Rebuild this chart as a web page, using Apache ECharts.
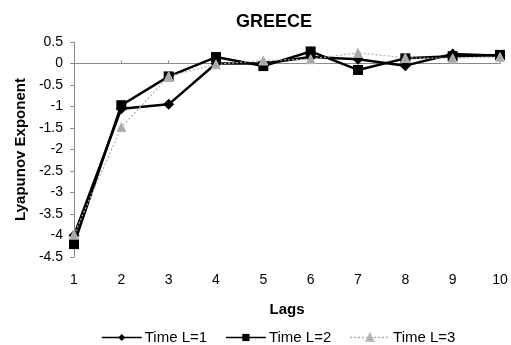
<!DOCTYPE html>
<html>
<head>
<meta charset="utf-8">
<script src="https://cdn.jsdelivr.net/npm/echarts@6/dist/echarts.min.js"></script>
<style>
  html, body { margin: 0; padding: 0; background: #fff; }
  #chart { width: 511px; height: 345px; }
</style>
</head>
<body>
<div id="chart"></div>
<script>
// Lyapunov exponents for Greece by number of lags
const lags = ['1', '2', '3', '4', '5', '6', '7', '8', '9', '10'];
const timeL1 = [-4.0, -1.05, -0.95, 0.0, 0.0, 0.15, 0.1, -0.05, 0.22, 0.18];
const timeL2 = [-4.2, -0.97, -0.3, 0.15, -0.06, 0.28, -0.15, 0.12, 0.17, 0.2];
const timeL3 = [-3.98, -1.48, -0.3, -0.02, 0.07, 0.1, 0.25, 0.13, 0.12, 0.15];
const yTicks = { min: -4.5, max: 0.5, step: 0.5 };

const FONT = 'Liberation Sans, Arial, sans-serif';
const chart = echarts.init(document.getElementById('chart'));

chart.setOption({
  animation: false,
  backgroundColor: '#fff',
  title: {
    text: 'GREECE',
    left: 269, top: 8, textAlign: 'center',
    textStyle: { fontFamily: FONT, fontSize: 18, fontWeight: 'bold', color: '#000' }
  },
  grid: { left: 74, right: 11, top: 42, bottom: 88 },
  legend: {
    top: 325, left: 96,
    itemWidth: 40, itemHeight: 9, itemGap: 18,
    lineStyle: { width: 1.5 },
    textStyle: { fontFamily: FONT, fontSize: 15, color: '#000', padding: [0, 0, 0, -2] },
    data: ['Time L=1', 'Time L=2', 'Time L=3']
  },
  xAxis: [
    {
      type: 'category', data: lags, boundaryGap: false, position: 'bottom',
      name: 'Lags', nameLocation: 'middle', nameGap: 45,
      nameTextStyle: { fontFamily: FONT, fontSize: 15, fontWeight: 'bold', color: '#000' },
      axisLine: { show: false, onZero: false },
      axisTick: { show: false },
      axisLabel: { fontFamily: FONT, fontSize: 14, color: '#000', margin: 16 }
    },
    {
      type: 'category', data: lags, boundaryGap: false, position: 'top',
      axisLine: { show: true, onZero: true, lineStyle: { color: '#8a8a8a', width: 1 } },
      axisTick: { show: true, length: 3, lineStyle: { color: '#8a8a8a' } },
      axisLabel: { show: false }
    }
  ],
  yAxis: {
    type: 'value', min: yTicks.min, max: yTicks.max, interval: yTicks.step,
    name: 'Lyapunov Exponent', nameLocation: 'middle', nameGap: 45,
    nameTextStyle: { fontFamily: FONT, fontSize: 15, fontWeight: 'bold', color: '#000' },
    axisLine: { show: true, lineStyle: { color: '#8a8a8a', width: 1 } },
    axisTick: { show: true, length: 4, lineStyle: { color: '#8a8a8a' } },
    axisLabel: { fontFamily: FONT, fontSize: 14, color: '#000', margin: 11 },
    splitLine: { show: false }
  },
  series: [
    {
      name: 'Time L=1', type: 'line', data: timeL1, xAxisIndex: 0,
      symbol: 'diamond', symbolSize: 11,
      itemStyle: { color: '#000' },
      lineStyle: { color: '#000', width: 2.5 }
    },
    {
      name: 'Time L=2', type: 'line', data: timeL2, xAxisIndex: 0,
      symbol: 'rect', symbolSize: 10,
      itemStyle: { color: '#000' },
      lineStyle: { color: '#000', width: 2.5 }
    },
    {
      name: 'Time L=3', type: 'line', data: timeL3, xAxisIndex: 0,
      symbol: 'triangle', symbolSize: 9,
      itemStyle: { color: '#a8a8a8', borderColor: '#bbb', borderWidth: 1 },
      lineStyle: { color: '#b0b0b0', width: 1.2, type: [2, 2] }
    }
  ]
});
</script>
</body>
</html>
